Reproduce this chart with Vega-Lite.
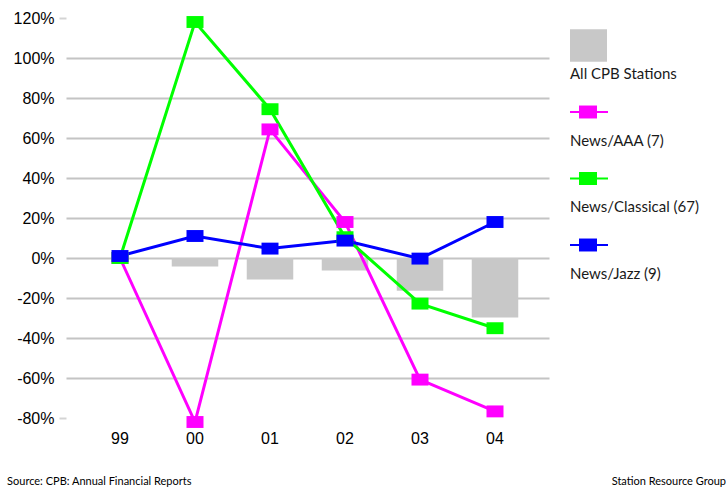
{
  "$schema": "https://vega.github.io/schema/vega-lite/v6.json",
  "background": "white",
  "padding": {"left": 7, "top": 10, "right": 0, "bottom": 0},
  "datasets": {
    "allStations": [
      {"year": "00", "v": -4.2},
      {"year": "01", "v": -10.8},
      {"year": "02", "v": -6.2},
      {"year": "03", "v": -16.4},
      {"year": "04", "v": -29.7}
    ],
    "formats": [
      {"series": "News/AAA (7)", "year": "99", "v": 0},
      {"series": "News/AAA (7)", "year": "00", "v": -82},
      {"series": "News/AAA (7)", "year": "01", "v": 64.3},
      {"series": "News/AAA (7)", "year": "02", "v": 18},
      {"series": "News/AAA (7)", "year": "03", "v": -60.8},
      {"series": "News/AAA (7)", "year": "04", "v": -76.7},
      {"series": "News/Classical (67)", "year": "99", "v": 0},
      {"series": "News/Classical (67)", "year": "00", "v": 118},
      {"series": "News/Classical (67)", "year": "01", "v": 74.4},
      {"series": "News/Classical (67)", "year": "02", "v": 10.4},
      {"series": "News/Classical (67)", "year": "03", "v": -22.8},
      {"series": "News/Classical (67)", "year": "04", "v": -35.1},
      {"series": "News/Jazz (9)", "year": "99", "v": 1},
      {"series": "News/Jazz (9)", "year": "00", "v": 11},
      {"series": "News/Jazz (9)", "year": "01", "v": 4.7},
      {"series": "News/Jazz (9)", "year": "02", "v": 8.7},
      {"series": "News/Jazz (9)", "year": "03", "v": -0.3},
      {"series": "News/Jazz (9)", "year": "04", "v": 18}
    ],
    "key": [
      {"series": "All CPB Stations", "slot": 0, "kind": "bar"},
      {"series": "News/AAA (7)", "slot": 1, "kind": "line"},
      {"series": "News/Classical (67)", "slot": 2, "kind": "line"},
      {"series": "News/Jazz (9)", "slot": 3, "kind": "line"}
    ]
  },
  "hconcat": [
    {
      "width": 483,
      "height": 400,
      "title": {
        "text": "Source: CPB: Annual Financial Reports",
        "orient": "bottom",
        "anchor": "start",
        "font": "Lato",
        "fontSize": 11,
        "fontWeight": "normal",
        "color": "#000000",
        "offset": 30,
        "dx": -6
      },
      "encoding": {
        "x": {
          "field": "year",
          "type": "ordinal",
          "sort": ["99", "00", "01", "02", "03", "04"],
          "scale": {"domain": ["99", "00", "01", "02", "03", "04"], "paddingInner": 0, "paddingOuter": 0.22},
          "axis": {
            "title": null,
            "labelAngle": 0,
            "labelFont": "Liberation Sans",
            "labelFontSize": 16,
            "labelColor": "#000000",
            "labelPadding": 12,
            "domain": false,
            "ticks": false,
            "grid": false
          }
        },
        "y": {
          "field": "v",
          "type": "quantitative",
          "scale": {"domain": [-80, 120], "nice": false, "zero": false},
          "axis": {
            "title": null,
            "values": [-80, -60, -40, -20, 0, 20, 40, 60, 80, 100, 120],
            "labelExpr": "datum.value + '%'",
            "labelFont": "Liberation Sans",
            "labelFontSize": 16,
            "labelColor": "#000000",
            "labelPadding": 5,
            "domain": false,
            "ticks": true,
            "tickSize": 7,
            "tickWidth": 2,
            "tickColor": {
              "condition": {"test": "datum.value == 120 || datum.value == -80", "value": "#d4d4d4"},
              "value": "rgba(255,255,255,0)"
            },
            "grid": true,
            "gridWidth": 2,
            "gridColor": {
              "condition": {"test": "datum.value == 120 || datum.value == -80", "value": "rgba(255,255,255,0)"},
              "value": "#c4c4c4"
            }
          }
        }
      },
      "layer": [
        {
          "data": {"name": "allStations"},
          "mark": {"type": "bar", "color": "#c8c8c8", "width": {"band": 0.62}}
        },
        {
          "data": {"name": "formats"},
          "mark": {"type": "line", "strokeWidth": 3},
          "encoding": {
            "color": {
              "field": "series",
              "type": "nominal",
              "scale": {
                "domain": ["News/AAA (7)", "News/Classical (67)", "News/Jazz (9)"],
                "range": ["#ff00ff", "#00ff00", "#0000ff"]
              },
              "legend": null
            }
          }
        },
        {
          "data": {"name": "formats"},
          "mark": {
            "type": "point",
            "shape": "M-1,-0.7H1V0.7H-1Z",
            "size": 289,
            "filled": true,
            "opacity": 1
          },
          "encoding": {
            "color": {
              "field": "series",
              "type": "nominal",
              "scale": {
                "domain": ["News/AAA (7)", "News/Classical (67)", "News/Jazz (9)"],
                "range": ["#ff00ff", "#00ff00", "#0000ff"]
              },
              "legend": null
            }
          }
        }
      ]
    },
    {
      "width": 156,
      "height": 400,
      "title": {
        "text": "Station Resource Group",
        "orient": "bottom",
        "anchor": "end",
        "font": "Lato",
        "fontSize": 11,
        "fontWeight": "normal",
        "color": "#000000",
        "offset": 58
      },
      "data": {"name": "key"},
      "encoding": {
        "y": {
          "field": "slot",
          "type": "quantitative",
          "scale": {"domain": [-0.4135, 5.6015], "reverse": true, "nice": false, "zero": false},
          "axis": null
        }
      },
      "layer": [
        {
          "transform": [{"filter": "datum.kind == 'bar'"}],
          "mark": {
            "type": "point",
            "shape": "M-1,-0.88H1V0.88H-1Z",
            "size": 1369,
            "filled": true,
            "opacity": 1,
            "color": "#c8c8c8"
          },
          "encoding": {
            "x": {"datum": 18.5, "type": "quantitative", "scale": {"domain": [0, 156], "nice": false}, "axis": null}
          }
        },
        {
          "transform": [{"filter": "datum.kind == 'line'"}],
          "mark": {"type": "rule", "strokeWidth": 2},
          "encoding": {
            "x": {"datum": 0, "type": "quantitative"},
            "x2": {"datum": 38},
            "color": {
              "field": "series",
              "type": "nominal",
              "scale": {
                "domain": ["News/AAA (7)", "News/Classical (67)", "News/Jazz (9)"],
                "range": ["#ff00ff", "#00ff00", "#0000ff"]
              },
              "legend": null
            }
          }
        },
        {
          "transform": [{"filter": "datum.kind == 'line'"}],
          "mark": {
            "type": "point",
            "shape": "M-1,-0.72H1V0.72H-1Z",
            "size": 324,
            "filled": true,
            "opacity": 1
          },
          "encoding": {
            "x": {"datum": 18, "type": "quantitative"},
            "color": {
              "field": "series",
              "type": "nominal",
              "scale": {
                "domain": ["News/AAA (7)", "News/Classical (67)", "News/Jazz (9)"],
                "range": ["#ff00ff", "#00ff00", "#0000ff"]
              },
              "legend": null
            }
          }
        },
        {
          "mark": {
            "type": "text",
            "align": "left",
            "baseline": "middle",
            "dy": 29,
            "font": "Lato",
            "fontSize": 15,
            "color": "#1a1a1a"
          },
          "encoding": {
            "x": {"datum": 0, "type": "quantitative"},
            "text": {"field": "series"}
          }
        }
      ]
    }
  ],
  "spacing": 20,
  "config": {
    "view": {"stroke": null},
    "concat": {"spacing": 20}
  }
}
